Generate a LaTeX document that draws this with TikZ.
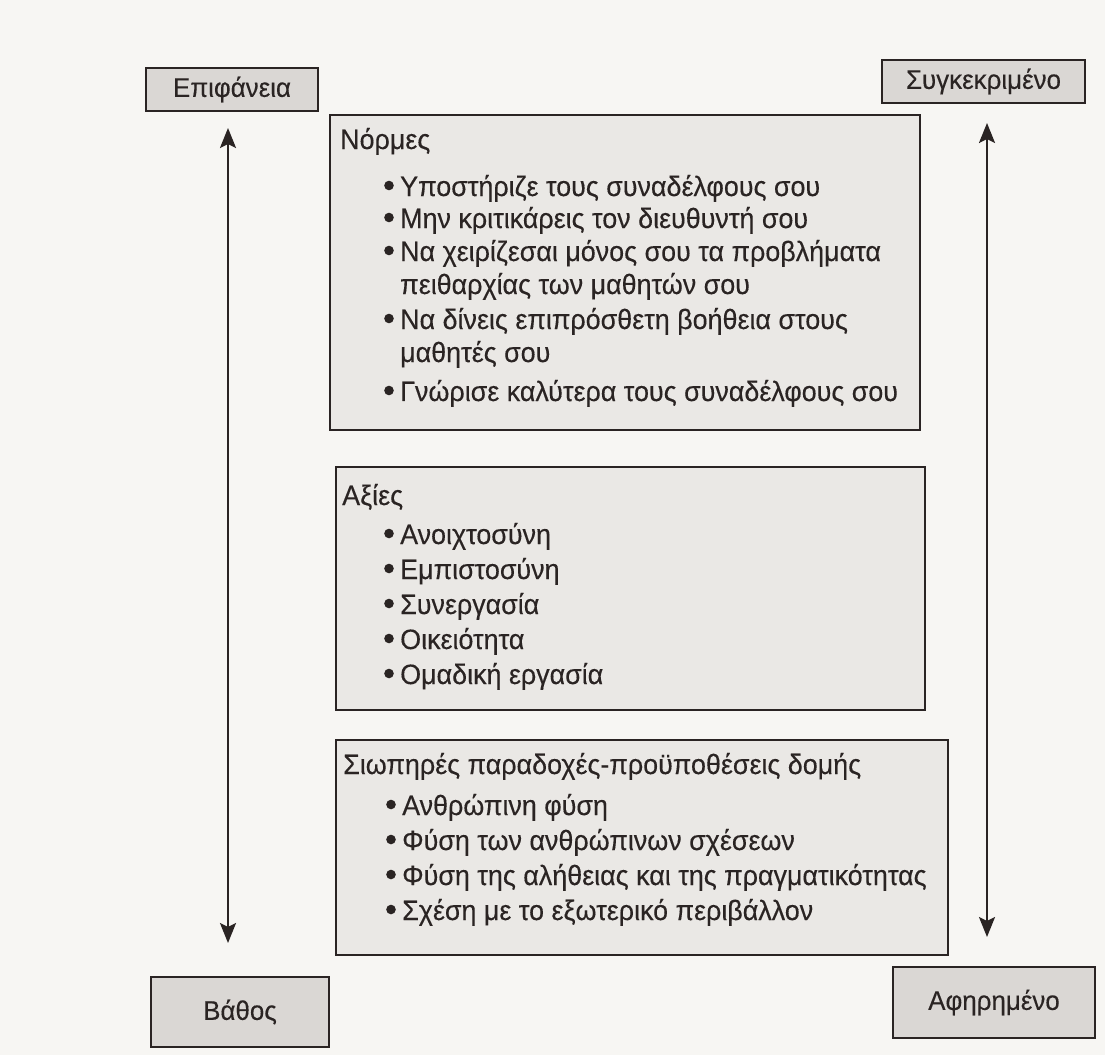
\documentclass[tikz,border=0pt]{standalone}
\usepackage{fontspec}
\setmainfont[FakeStretch=0.96,FakeBold=0.25]{Liberation Sans}
\usetikzlibrary{arrows.meta}

\definecolor{paper}{HTML}{F7F6F3}
\definecolor{panelfill}{HTML}{EAE8E5}
\definecolor{tagfill}{HTML}{DAD7D4}
\definecolor{ink}{HTML}{2A2423}

\begin{document}
\begin{tikzpicture}[x=1pt,y=-1pt,
  tag/.style={draw=ink, line width=2.9pt, fill=tagfill, text=ink,
    font=\fontsize{27}{30}\selectfont, inner sep=0pt},
  panel/.style={draw=ink, line width=2.9pt, fill=panelfill, inner sep=0pt},
  head/.style={anchor=base west, inner sep=0pt, text=ink,
    font=\fontsize{28}{32}\selectfont},
  itemline/.style={head},
  dot/.style={circle, fill=ink, inner sep=0pt, minimum size=9.6pt},
  axis/.style={draw=ink, line width=2.4pt,
    {Stealth[length=20pt,width=16pt,inset=4pt]}-{Stealth[length=20pt,width=16pt,inset=4pt]}}
  ]
  % page
  \fill[paper] (0,0) rectangle (1105,1055);
  \useasboundingbox (0,0) rectangle (1105,1055);

  % corner labels
  \node[tag, minimum width=172pt, minimum height=43pt] (surface) at (232,89.5) {Επιφάνεια};
  \node[tag, minimum width=203pt, minimum height=43pt] (concrete) at (983.5,81.5) {Συγκεκριμένο};
  \node[tag, minimum width=178pt, minimum height=70pt] (depth) at (240,1012) {Βάθος};
  \node[tag, minimum width=202pt, minimum height=71pt] (abstract) at (994,1002.5) {Αφηρημένο};

  % vertical scales
  \coordinate (ltop) at (228,128);
  \coordinate (lbot) at (228,943);
  \coordinate (rtop) at (987,123);
  \coordinate (rbot) at (987,937);
  \draw[axis] (ltop) -- (lbot);
  \draw[axis] (rtop) -- (rbot);

  % panels
  \node[panel, minimum width=590pt, minimum height=315pt] (norms) at (625,272.5) {};
  \node[panel, minimum width=589pt, minimum height=243pt] (values) at (630.5,588.5) {};
  \node[panel, minimum width=612pt, minimum height=215pt] (assump) at (642,847.5) {};

  % norms
  \node[head] (normsH) at (340,149) {Νόρμες};
  \foreach \txt/\yy [count=\i] in {
      Υποστήριζε τους συναδέλφους σου/196,
      Μην κριτικάρεις τον διευθυντή σου/228,
      Να χειρίζεσαι μόνος σου τα προβλήματα/261,
      πειθαρχίας των μαθητών σου/294,
      Να δίνεις επιπρόσθετη βοήθεια στους/329,
      μαθητές σου/362,
      Γνώρισε καλύτερα τους συναδέλφους σου/401}
    \node[itemline] (norm\i) at (400,\yy) {\txt};
  \foreach \yy [count=\i] in {196,228,261,329,401}
    \node[dot] (normdot\i) at (389,\yy-10.5) {};

  % values
  \node[head] (valuesH) at (342,505) {Αξίες};
  \foreach \txt [count=\i from 0] in {
      Ανοιχτοσύνη,
      Εμπιστοσύνη,
      Συνεργασία,
      Οικειότητα,
      Ομαδική εργασία}
  {
    \node[itemline] (value\i) at (400,544+\i*35) {\txt};
    \node[dot] (valuedot\i) at (389,533.5+\i*35) {};
  }

  % tacit assumptions
  \node[head] (assumpH) at (343,774) {Σιωπηρές παραδοχές-προϋποθέσεις δομής};
  \foreach \txt [count=\i from 0] in {
      Ανθρώπινη φύση,
      Φύση των ανθρώπινων σχέσεων,
      Φύση της αλήθειας και της πραγματικότητας,
      Σχέση με το εξωτερικό περιβάλλον}
  {
    \node[itemline] (assump\i) at (402,815+\i*35) {\txt};
    \node[dot] (assumpdot\i) at (391,804.5+\i*35) {};
  }
\end{tikzpicture}
\end{document}
